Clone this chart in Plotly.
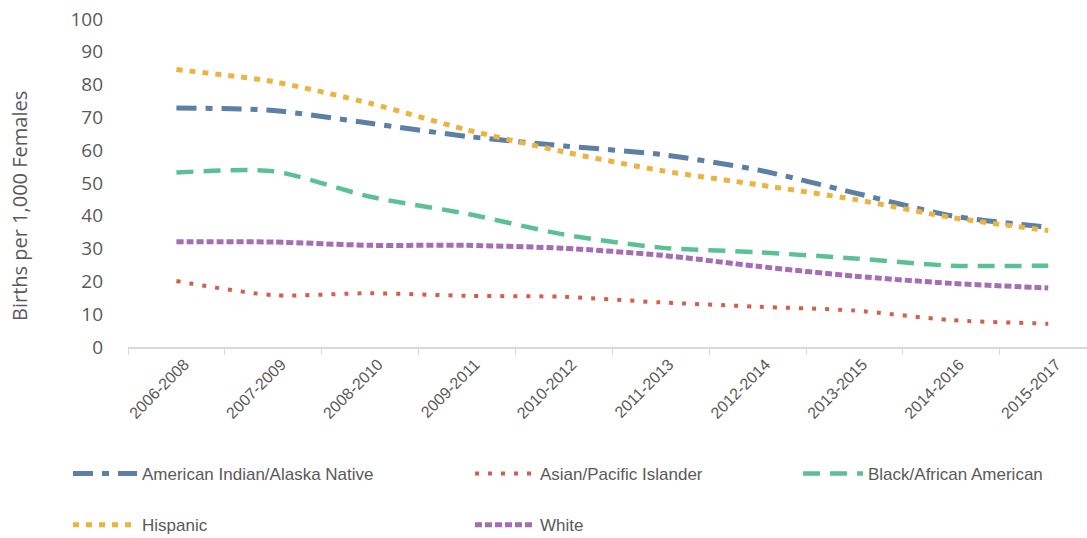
import plotly.graph_objects as go

periods = ["2006-2008", "2007-2009", "2008-2010", "2009-2011", "2010-2012",
           "2011-2013", "2012-2014", "2013-2015", "2014-2016", "2015-2017"]

ai_an = [72.9, 72.1, 68.2, 64.2, 61.3, 58.7, 54.0, 47.0, 40.0, 36.5]
asian_pi = [20.1, 15.8, 16.4, 15.6, 15.3, 13.6, 12.3, 11.1, 8.2, 7.1]
black = [53.2, 53.6, 45.8, 40.6, 34.3, 30.3, 28.9, 27.0, 24.8, 24.8]
hispanic = [84.6, 80.9, 74.3, 66.2, 59.5, 53.8, 49.5, 45.0, 39.5, 35.5]
white = [32.1, 32.0, 31.0, 31.0, 30.1, 28.0, 24.6, 21.6, 19.4, 18.0]

series = [
    ("American Indian/Alaska Native", ai_an, "#5B7FA5", 5, "20px,9px,7px,9px", "legend", "g1"),
    ("Asian/Pacific Islander", asian_pi, "#D0604B", 4, "4px,9px", "legend2", "g2"),
    ("Black/African American", black, "#5BC195", 4.5, "17px,10px", "legend3", "g3"),
    ("Hispanic", hispanic, "#EBB33F", 5, "6px,7px", "legend", "g4"),
    ("White", white, "#A56DB3", 5, "7px,3px", "legend2", "g5"),
]

W, H = 1087, 538

fig = go.Figure()
for name, vals, color, w, dash, lg, grp in series:
    fig.add_trace(go.Scatter(
        x=periods, y=vals, name=name, mode="lines",
        line=dict(color=color, width=w, dash=dash, shape="spline", smoothing=0.7),
        legend=lg, legendgroup=grp,
    ))

legend_font = dict(family="Liberation Sans, Arial, sans-serif", size=17, color="#595959")
common = dict(orientation="v", xref="container", yref="container", xanchor="left",
              yanchor="top", font=legend_font, tracegroupgap=26, bgcolor="rgba(0,0,0,0)")

fig.update_layout(
    width=W, height=H,
    margin=dict(l=128, r=0, t=19, b=191, autoexpand=False),
    paper_bgcolor="white", plot_bgcolor="white",
    showlegend=True,
    legend=dict(x=68/W, y=1-456/H, itemwidth=64, **common),
    legend2=dict(x=470/W, y=1-456/H, itemwidth=60, **common),
    legend3=dict(x=798/W, y=1-456/H, itemwidth=60, **common),
    xaxis=dict(
        type="category", range=[-0.5, 9.4], showgrid=False,
        showline=True, linecolor="#D9D9D9", linewidth=1.5,
        ticks="outside", tickson="boundaries", ticklen=6, tickcolor="#D9D9D9",
        tickangle=-45, ticklabelshift=8,
        tickfont=dict(family="Liberation Sans, Arial, sans-serif", size=16, color="#595959"),
    ),
    yaxis=dict(
        range=[0, 100], dtick=10, showgrid=False, showline=False, zeroline=False,
        ticklabelstandoff=24, ticklabeloverflow="allow",
        tickfont=dict(family="Open Sans, sans-serif", size=19, color="#595959"),
    ),
    annotations=[dict(
        text="Births per 1,000 Females", xref="paper", yref="paper",
        x=(20 - 128) / 959, y=(347 - 206) / 328, textangle=-90, showarrow=False,
        xanchor="center", yanchor="middle",
        font=dict(family="Open Sans, sans-serif", size=20, color="#595959"),
    )],
)

fig.write_html("out.html", config={"displayModeBar": False},
               post_script="document.body.style.margin='0';")
